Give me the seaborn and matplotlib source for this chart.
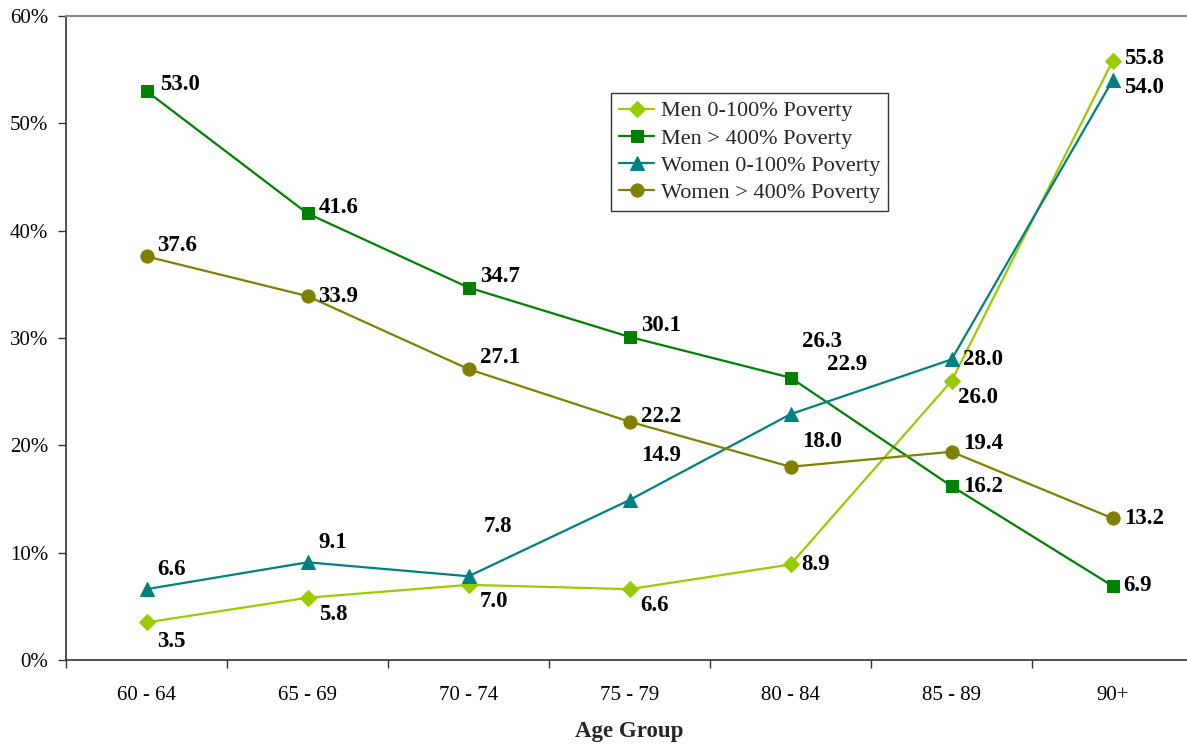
import matplotlib
matplotlib.use('Agg')
import matplotlib.pyplot as plt
import matplotlib.ticker as mticker
import seaborn as sns

# Data
AGE_GROUPS = ['60 - 64', '65 - 69', '70 - 74', '75 - 79', '80 - 84', '85 - 89', '90+']
MEN_POOR = [3.5, 5.8, 7.0, 6.6, 8.9, 26.0, 55.8]
MEN_RICH = [53.0, 41.6, 34.7, 30.1, 26.3, 16.2, 6.9]
WOMEN_POOR = [6.6, 9.1, 7.8, 14.9, 22.9, 28.0, 54.0]
WOMEN_RICH = [37.6, 33.9, 27.1, 22.2, 18.0, 19.4, 13.2]
SERIES_NAMES = ['Men 0-100% Poverty', 'Men > 400% Poverty',
                'Women 0-100% Poverty', 'Women > 400% Poverty']

# Style
sns.set_theme(style="white")
plt.rcParams['font.family'] = ['Liberation Serif', 'DejaVu Serif']

STYLES = [
    dict(color='#99CC00', marker='D', ms=8),
    dict(color='#008000', marker='s', ms=8.5),
    dict(color='#008080', marker='^', ms=9.5),
    dict(color='#808000', marker='o', ms=9.5),
]
# label offsets in points (dx, dy) per point
OFFSETS = [
    [(8, -14), (8, -12), (8, -12), (8, -12), (8, 0), (5, -12), (8, 2)],
    [(10, 5), (8, 4), (8, 8), (8, 8), (8, 26), (8, 0), (8, 0)],
    [(8, 14), (8, 14), (11, 36), (8, 32), (26, 36), (8, 0), (8, -5)],
    [(8, 8), (8, 0), (8, 8), (8, 4), (8, 18), (8, 6), (8, 0)],
]

values = [MEN_POOR, MEN_RICH, WOMEN_POOR, WOMEN_RICH]

fig = plt.figure(figsize=(11.87, 7.46), dpi=100)
ax = fig.add_axes([0.0556, 0.1153, 0.9495, 0.8633])

for name, vals, st, offs in zip(SERIES_NAMES, values, STYLES, OFFSETS):
    sns.lineplot(x=AGE_GROUPS, y=vals, ax=ax, color=st['color'], marker=st['marker'],
                 markersize=st['ms'], markeredgecolor=st['color'], linewidth=1.6,
                 label=name, sort=False)
    for i, (v, (dx, dy)) in enumerate(zip(vals, offs)):
        ax.annotate(f'{v:.1f}', (i, v), xytext=(dx, dy), textcoords='offset points',
                    ha='left', va='center', fontsize=16.5, fontweight='bold', color='black')

ax.set_xlim(-0.5, 6.5)
ax.set_ylim(0, 60)
ax.yaxis.set_major_locator(mticker.MultipleLocator(10))
ax.yaxis.set_major_formatter(mticker.FuncFormatter(lambda x, p: f'{x:.0f}%'))
ax.set_xticks(range(len(AGE_GROUPS)))
ax.set_xticklabels(AGE_GROUPS)
ax.xaxis.set_minor_locator(mticker.FixedLocator([i - 0.5 for i in range(len(AGE_GROUPS) + 1)]))
ax.tick_params(axis='x', which='major', length=0, pad=19, labelsize=15, colors='black')
ax.tick_params(axis='x', which='minor', length=6, width=1, color='#333333', direction='out', bottom=True)
ax.tick_params(axis='y', length=6, width=1, color='#333333', direction='out', left=True,
               labelsize=15, labelcolor='black', pad=7)

for s in ['left', 'bottom']:
    ax.spines[s].set_color('#333333')
    ax.spines[s].set_linewidth(1.2)
ax.spines['top'].set_color('#888888')
ax.spines['top'].set_linewidth(1.5)
ax.spines['right'].set_visible(False)

ax.set_xlabel('Age Group', fontsize=16.5, fontweight='bold', labelpad=11)
ax.set_ylabel('')

leg = ax.legend(loc='upper left', bbox_to_anchor=(0.4836, 0.8804), fontsize=16,
                frameon=True, fancybox=False, edgecolor='black', handlelength=1.6,
                borderpad=0.35, labelspacing=0.3, handletextpad=0.3, borderaxespad=0)
leg.get_frame().set_linewidth(1)

fig.savefig('out.png', dpi=100)
